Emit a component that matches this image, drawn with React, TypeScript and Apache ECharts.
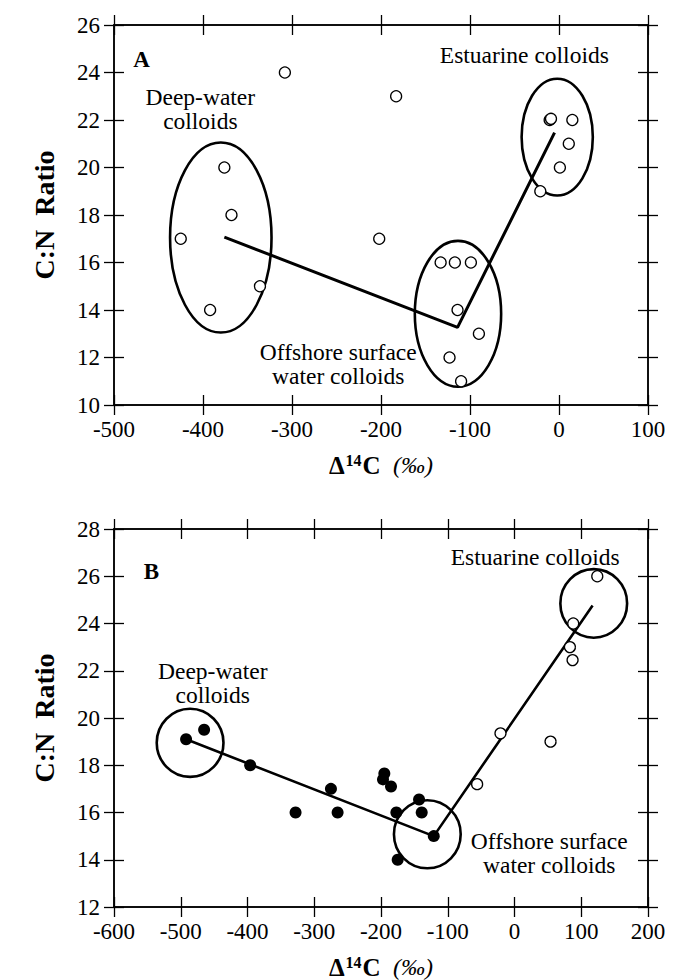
import React, { useEffect, useRef } from "react";
import * as echarts from "echarts";

// ---------- Panel A (open circles) ----------
const pointsA: number[][] = [
  [-308, 24], [-183, 23], [-10.5, 22], [-9, 22.05], [15, 22], [11, 21], [1, 20], [-21, 19],
  [-376, 20], [-368, 18], [-425, 17], [-336, 15], [-392, 14],
  [-202, 17],
  [-133, 16], [-117, 16], [-99, 16], [-114, 14], [-90, 13], [-123, 12], [-110, 11],
];
const trendA: number[][] = [[-376, 17.07], [-114, 13.27], [-5, 21.47]];
// [centre x, centre y, radius x, radius y] in data units
const groupsA: number[][] = [
  [-380, 17.05, 57, 4.0],
  [-113.5, 13.84, 48.5, 3.07],
  [-2, 21.28, 40, 2.46],
];

// ---------- Panel B ----------
const filledB: number[][] = [
  [-492, 19.1], [-465, 19.5], [-396, 18], [-328, 16], [-275, 17], [-265, 16],
  [-195, 17.65], [-197, 17.4], [-185, 17.1], [-177, 16], [-143, 16.55], [-139, 16],
  [-121, 15], [-175, 14],
];
const openB: number[][] = [
  [124, 26], [88, 24], [83, 23], [87, 22.45], [54, 19], [-21, 19.35], [-56, 17.2],
];
const trendB: number[][] = [[-492, 19.1], [-121, 15], [117, 24.76]];
const groupsB: number[][] = [
  [-486, 18.95, 50, 1.44],
  [-130.6, 15.08, 50, 1.44],
  [118.7, 24.85, 50, 1.45],
];

// axis ranges [min, max, interval]
const xRangeA = [-500, 100, 100];
const yRangeA = [10, 26, 2];
const xRangeB = [-600, 200, 100];
const yRangeB = [12, 28, 2];

// annotations [text, x, y, bold]
const notesA: [string, number, number, boolean][] = [
  ["A", -469, 24.56, true],
  ["Deep-water\ncolloids", -403, 22.45, false],
  ["Estuarine colloids", -39, 24.74, false],
  ["Offshore surface\nwater colloids", -248, 11.74, false],
];
const notesB: [string, number, number, boolean][] = [
  ["B", -544, 26.21, true],
  ["Estuarine colloids", 31, 26.82, false],
  ["Deep-water\ncolloids", -452, 21.48, false],
  ["Offshore surface\nwater colloids", 52, 14.28, false],
];

const FONT = "'Liberation Serif', 'Times New Roman', serif";

function axesFor(gridIndex: number, dim: "x" | "y", r: number[]) {
  const common: any = {
    type: "value",
    gridIndex,
    min: r[0],
    max: r[1],
    interval: r[2],
    splitLine: { show: false },
    axisLine: { show: true, onZero: false, lineStyle: { color: "#000", width: 1.5 } },
  };
  const tick = (inside: boolean) => ({
    show: true,
    inside,
    length: 10,
    lineStyle: { color: "#000", width: 1.3 },
  });
  const p1 = dim === "x" ? "bottom" : "left";
  const p2 = dim === "x" ? "top" : "right";
  return [
    {
      ...common,
      position: p1,
      axisTick: tick(false),
      axisLabel: {
        show: true,
        color: "#000",
        fontFamily: FONT,
        fontSize: 23,
        margin: dim === "x" ? 13 : 14,
      },
    },
    { ...common, position: p1, axisTick: tick(true), axisLabel: { show: false } },
    { ...common, position: p2, axisTick: tick(false), axisLabel: { show: false } },
    { ...common, position: p2, axisTick: tick(true), axisLabel: { show: false } },
  ];
}

function ellipseSeries(data: number[][], axisBase: number) {
  return {
    type: "custom",
    xAxisIndex: axisBase,
    yAxisIndex: axisBase,
    data,
    silent: true,
    z: 3,
    renderItem: (params: any, api: any) => {
      const c = api.coord([api.value(0), api.value(1)]);
      const s = api.size([api.value(2), api.value(3)]);
      return {
        type: "ellipse",
        shape: { cx: c[0], cy: c[1], rx: s[0], ry: s[1] },
        style: { fill: "none", stroke: "#000", lineWidth: 2.6 },
      };
    },
  };
}

function notesSeries(notes: [string, number, number, boolean][], axisBase: number) {
  return {
    type: "custom",
    xAxisIndex: axisBase,
    yAxisIndex: axisBase,
    data: notes.map((n) => [n[1], n[2]]),
    silent: true,
    z: 10,
    renderItem: (params: any, api: any) => {
      const n = notes[params.dataIndex];
      const c = api.coord([api.value(0), api.value(1)]);
      return {
        type: "text",
        x: c[0],
        y: c[1],
        style: {
          text: n[0],
          fill: "#000",
          font: (n[3] ? "bold 23px " : "23.5px ") + FONT,
          align: "center",
          verticalAlign: "middle",
          lineHeight: 24,
        },
      };
    },
  };
}

const openStyle = { color: "#fff", borderColor: "#000", borderWidth: 1.3, opacity: 1 };

export default function App() {
  const ref = useRef<HTMLDivElement>(null);
  useEffect(() => {
    if (!ref.current) return;
    const chart = echarts.init(ref.current, undefined, { renderer: "svg" });
    const xAxes = [...axesFor(0, "x", xRangeA), ...axesFor(1, "x", xRangeB)];
    const yAxes = [...axesFor(0, "y", yRangeA), ...axesFor(1, "y", yRangeB)];
    const titleRich = {
      d: { fontFamily: FONT, fontWeight: "bold", fontSize: 25, color: "#000" },
      s: { fontFamily: FONT, fontWeight: "bold", fontSize: 16, color: "#000", padding: [0, 1, 10, 1] },
      p: { fontFamily: FONT, fontStyle: "italic", fontSize: 24, color: "#000" },
    };
    const xTitle = (y: number) => ({
      type: "text",
      x: 381,
      y,
      style: {
        text: "{d|Δ}{s|14}{d|C  }{p|(‰)}",
        rich: titleRich,
        align: "center",
        verticalAlign: "middle",
      },
    });
    const yTitle = (y: number) => ({
      type: "text",
      x: 44,
      y,
      rotation: Math.PI / 2,
      style: {
        text: "C:N  Ratio",
        font: "bold 28px " + FONT,
        fill: "#000",
        align: "center",
        verticalAlign: "middle",
      },
    });
    chart.setOption({
      animation: false,
      backgroundColor: "#fff",
      grid: [
        { left: 114, right: 33, top: 25, height: 380 },
        { left: 114, right: 33, top: 529, height: 378 },
      ],
      xAxis: xAxes,
      yAxis: yAxes,
      graphic: [xTitle(465), xTitle(967), yTitle(215), yTitle(718)],
      series: [
        ellipseSeries(groupsA, 0),
        {
          type: "line",
          xAxisIndex: 0,
          yAxisIndex: 0,
          data: trendA,
          symbol: "none",
          lineStyle: { color: "#000", width: 3 },
          z: 4,
        },
        {
          type: "scatter",
          xAxisIndex: 0,
          yAxisIndex: 0,
          data: pointsA,
          symbol: "circle",
          symbolSize: 11,
          itemStyle: openStyle,
          z: 5,
        },
        notesSeries(notesA, 0),
        ellipseSeries(groupsB, 4),
        {
          type: "line",
          xAxisIndex: 4,
          yAxisIndex: 4,
          data: trendB,
          symbol: "none",
          lineStyle: { color: "#000", width: 2.6 },
          z: 4,
        },
        {
          type: "scatter",
          xAxisIndex: 4,
          yAxisIndex: 4,
          data: openB,
          symbol: "circle",
          symbolSize: 11,
          itemStyle: openStyle,
          z: 5,
        },
        {
          type: "scatter",
          xAxisIndex: 4,
          yAxisIndex: 4,
          data: filledB,
          symbol: "circle",
          symbolSize: 12,
          itemStyle: { color: "#000", opacity: 1 },
          z: 5,
        },
        notesSeries(notesB, 4),
      ],
    });
    return () => chart.dispose();
  }, []);
  return <div ref={ref} style={{ width: 681, height: 980, position: "absolute", left: 0, top: 0 }} />;
}
